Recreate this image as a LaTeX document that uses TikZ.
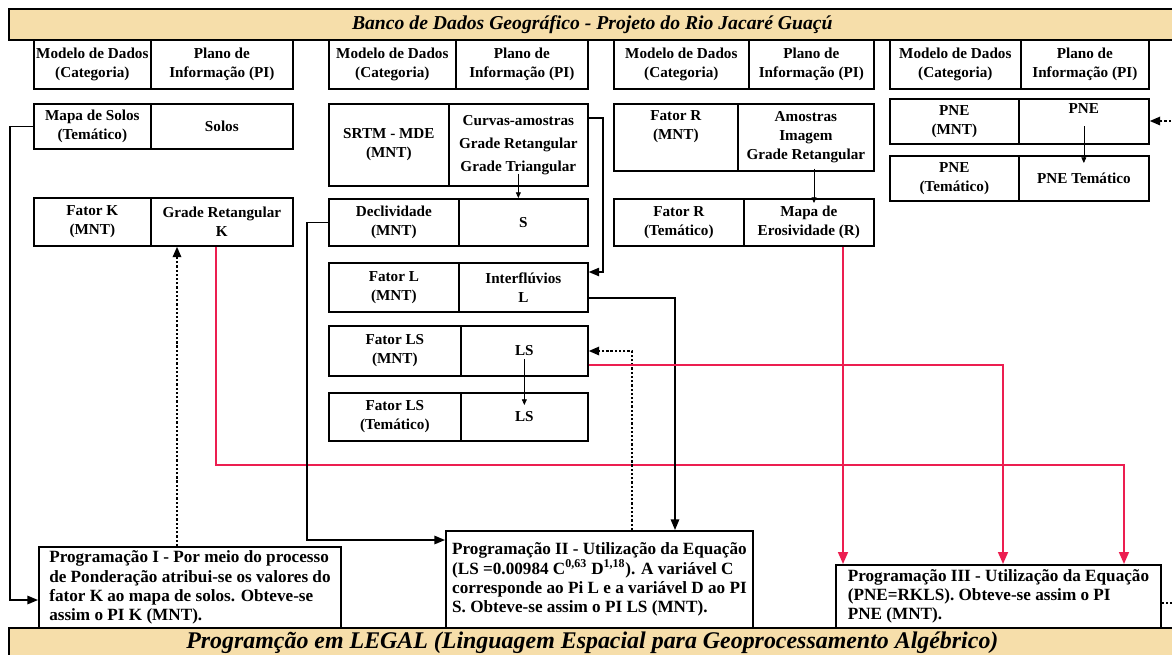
\documentclass[tikz,border=0pt]{standalone}
\usepackage{fontspec}
\setmainfont{Liberation Serif}
\usetikzlibrary{arrows.meta,calc}
\definecolor{bandtan}{RGB}{246,222,170}
\definecolor{linkred}{RGB}{236,30,80}
% one row of the data base: model cell + plane cell
\newcommand{\datarow}[8]{%
  \node[cell, minimum width={(#3-#2)*0.025cm}, minimum height={(#6-#5)*0.025cm}] (#1m) at (#2,#5) {#7};
  \node[cell, minimum width={(#4-#3)*0.025cm}, minimum height={(#6-#5)*0.025cm}] (#1p) at (#3,#5) {#8};}
\tikzset{
  cell/.style={draw, line width=1.2pt, inner sep=1pt, anchor=north west, align=center,
    font=\fontsize{10.8}{13.5}\selectfont\bfseries},
  progbox/.style={draw, line width=1.3pt, inner sep=2pt, anchor=north west, align=left,
    font=\fontsize{12.2}{13.6}\selectfont\bfseries},
  band/.style={draw, fill=bandtan, line width=1.2pt, anchor=north west, inner sep=0pt},
  link/.style={line width=1pt, -{Triangle[length=7.5pt,width=6pt]}},
  dotlink/.style={link, line width=1.4pt, dash pattern=on 1.6pt off 1.4pt},
  redlink/.style={draw=linkred, line width=1.4pt, -{Triangle[length=8.5pt,width=7pt]}},
  thinlink/.style={line width=0.5pt, -{Triangle[length=4pt,width=3.5pt]}}
}
\begin{document}
\begin{tikzpicture}[x=0.025cm, y=-0.025cm]
	%%%%% START %%%%%
	\useasboundingbox (0,0) rectangle (1172,654);
	
	\node[band, minimum width={1167*0.025cm}, minimum height={31*0.025cm},
	  font=\fontsize{14}{16}\selectfont\bfseries\itshape] (dbtitle) at (8,8)
	  {Banco de Dados Geográfico - Projeto do Rio Jacaré Guaçú};
	
	\datarow{hA}{33}{150}{292}{39}{88}{Modelo de Dados\\(Categoria)}{Plano de\\Informação (PI)}
	\datarow{hB}{328}{455}{587}{39}{88}{Modelo de Dados\\(Categoria)}{Plano de\\Informação (PI)}
	\datarow{hC}{613}{748}{873}{39}{88}{Modelo de Dados\\(Categoria)}{Plano de\\Informação (PI)}
	\datarow{hD}{889}{1020}{1148}{39}{88}{Modelo de Dados\\(Categoria)}{Plano de\\Informação (PI)}
	
	\datarow{solos}{33}{150}{292}{103}{148}{Mapa de Solos\\(Temático)}{Solos}
	\datarow{fk}{33}{150}{292}{197}{245}{Fator K\\(MNT)}{Grade Retangular\\K}
	
	\datarow{srtm}{328}{448}{587}{103}{185}{SRTM - MDE\\(MNT)}{Curvas-amostras\\[3pt]Grade Retangular\\[3pt]Grade Triangular}
	\datarow{dec}{328}{458}{587}{198}{245}{Declividade\\(MNT)}{S}
	\datarow{fl}{328}{458}{587}{262}{311}{Fator L\\(MNT)}{Interflúvios\\L}
	\datarow{fls}{328}{460}{587}{325}{375}{Fator LS\\(MNT)}{LS}
	\datarow{flt}{328}{460}{587}{392}{440}{Fator LS\\(Temático)}{LS}
	
	\datarow{frm}{613}{737}{873}{103}{170}{Fator R\\(MNT)\\\strut}{Amostras\\Imagem\\Grade Retangular}
	\datarow{frt}{613}{743}{873}{198}{245}{Fator R\\(Temático)}{Mapa de\\Erosividade (R)}
	
	\datarow{pne}{889}{1018}{1148}{98}{143}{PNE\\(MNT)}{PNE\\\strut}
	\datarow{pnet}{889}{1018}{1148}{155}{200}{PNE\\(Temático)}{PNE Temático}
	
	\node[progbox, minimum width=7.55cm, minimum height=2.025cm] (prog1) at (38,546)
	  {Programação I - Por meio do processo\\de Ponderação atribui-se os valores do\\fator K ao mapa de solos. Obteve-se\\assim o PI K (MNT).};
	\node[progbox, minimum width=7.675cm, minimum height=2.425cm] (prog2) at (445,530)
	  {Programação II - Utilização da Equação\\(LS =0.00984 C\textsuperscript{0,63} D\textsuperscript{1,18}). A variável C\\corresponde ao Pi L e a variável D ao PI\\S. Obteve-se assim o PI LS (MNT).};
	\node[progbox, minimum width=8.125cm, minimum height=1.575cm] (prog3) at (835,564)
	  {Programação III - Utilização da Equação\\(PNE=RKLS). Obteve-se assim o PI\\PNE (MNT).};
	
	\node[band, minimum width={1167*0.025cm}, minimum height={30*0.025cm},
	  font=\fontsize{17}{19}\selectfont\bfseries\itshape] (legal) at (8,627)
	  {Programção em LEGAL (Linguagem Espacial para Geoprocessamento Algébrico)};
	
	\draw[link] (solosm.west) -| (10,600) -- (prog1.west |- 0,600);
	\draw[dotlink] (prog1.north -| 177,0) -- (fkp.south -| 177,0);
	\draw[redlink] (fkp.south -| 216,0) |- (1124,465) -- (prog3.north -| 1124,0);
	
	\draw[link] (srtmp.east |- 0,118) -| (603,272) -- (flp.east |- 0,272);
	\draw[thinlink] ($(srtmp.south)+(0,-13)$) -- (srtmp.south |- decp.north);
	\draw[link] (decm.west) -| (307,540) -- (prog2.west |- 0,540);
	\draw[link] (flp.east |- 0,298) -| (prog2.north -| 675,0);
	\draw[dotlink] (prog2.north -| 632,0) |- (flsp.east |- 0,351);
	\draw[redlink] (flsp.east |- 0,365) -| (prog3.north -| 1003,0);
	\draw[thinlink] ($(flsp.center)+(0,8)$) -- ($(fltp.north)+(0,13)$);
	
	\draw[thinlink] ($(frmp.south -| 814,0)+(0,-3)$) -- ($(frtp.north -| 814,0)+(0,5)$);
	\draw[redlink] (frtp.south -| 843,0) -- (prog3.north -| 843,0);
	
	\draw[thinlink] ($(pnep.center)+(0,5)$) -- ($(pnetp.north)+(0,8)$);
	\coordinate (edgeA) at (1175,121);
	\coordinate (edgeB) at (1175,603);
	\draw[dotlink] (edgeA) -- (pnep.east |- edgeA);
	\draw[dotlink, -] (prog3.east |- edgeB) -- (edgeB);
	
	%%%%% END %%%%%
\end{tikzpicture}
\end{document}
